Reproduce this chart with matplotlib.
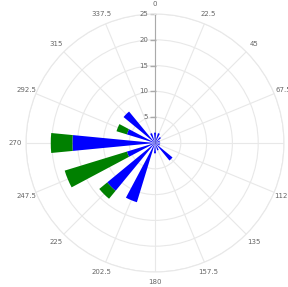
import numpy as np
import matplotlib
matplotlib.use("Agg")
import matplotlib.pyplot as plt
from matplotlib.transforms import offset_copy

# wind directions (degrees) and stacked speed classes
directions = [0, 22.5, 45, 67.5, 90, 112.5, 135, 157.5,
              180, 202.5, 225, 247.5, 270, 292.5, 315, 337.5]
blue_vals = [2, 2, 1.5, 1, 1, 1, 4.4, 1.5,
             2, 12, 12, 5.7, 16, 5.7, 7.9, 2]
green_vals = [0, 0, 0, 0, 0, 0, 0, 0,
              0, 0, 2, 12.6, 4.2, 2.1, 0, 0]
angle_labels = ["0", "22.5", "45", "67.5", "90", "112.5", "135", "157.5",
                "180", "202.5", "225", "247.5", "270", "292.5", "315", "337.5"]
r_ticks = [5, 10, 15, 20, 25]

W, H = 288, 287
cx, cy, R = 155, 143, 129

fig = plt.figure(figsize=(W / 100, H / 100), dpi=100)
ax = fig.add_axes([(cx - R) / W, (H - cy - R) / H, 2 * R / W, 2 * R / H],
                  projection="polar")
ax.set_theta_zero_location("N")
ax.set_theta_direction(-1)
ax.set_ylim(0, 25)

theta = np.radians(directions)
width = np.radians(11.0)
ax.bar(theta, blue_vals, width=width, color="#0000ff", linewidth=0, zorder=3)
ax.bar(theta, green_vals, width=width, bottom=blue_vals, color="#008000",
       linewidth=0, zorder=3)

grid_c = "#e8e8e8"
ax.set_xticks(theta)
ax.set_xticklabels(angle_labels, fontsize=5, color="#666666")
ax.tick_params(axis="x", pad=-3)
ax.set_yticks(r_ticks)
ax.set_yticklabels([])
ax.grid(True, color=grid_c, linewidth=0.8)
ax.spines["polar"].set_color(grid_c)
ax.spines["polar"].set_linewidth(0.8)

# radial axis along north
ax.plot([0, 0], [0, 25], color="#aaaaaa", linewidth=0.8, zorder=2)
lab_tr = offset_copy(ax.transData, fig=fig, x=-7, y=0, units="dots")
tick_tr = offset_copy(ax.transData, fig=fig, x=-2.5, y=0, units="dots")
for r in r_ticks:
    ax.text(0, r, str(r), transform=lab_tr, ha="right", va="center",
            fontsize=5, color="#666666")
    ax.plot([0], [r], marker="_", markersize=4, color="#aaaaaa",
            transform=tick_tr, clip_on=False)

fig.savefig("out.png", dpi=100)
